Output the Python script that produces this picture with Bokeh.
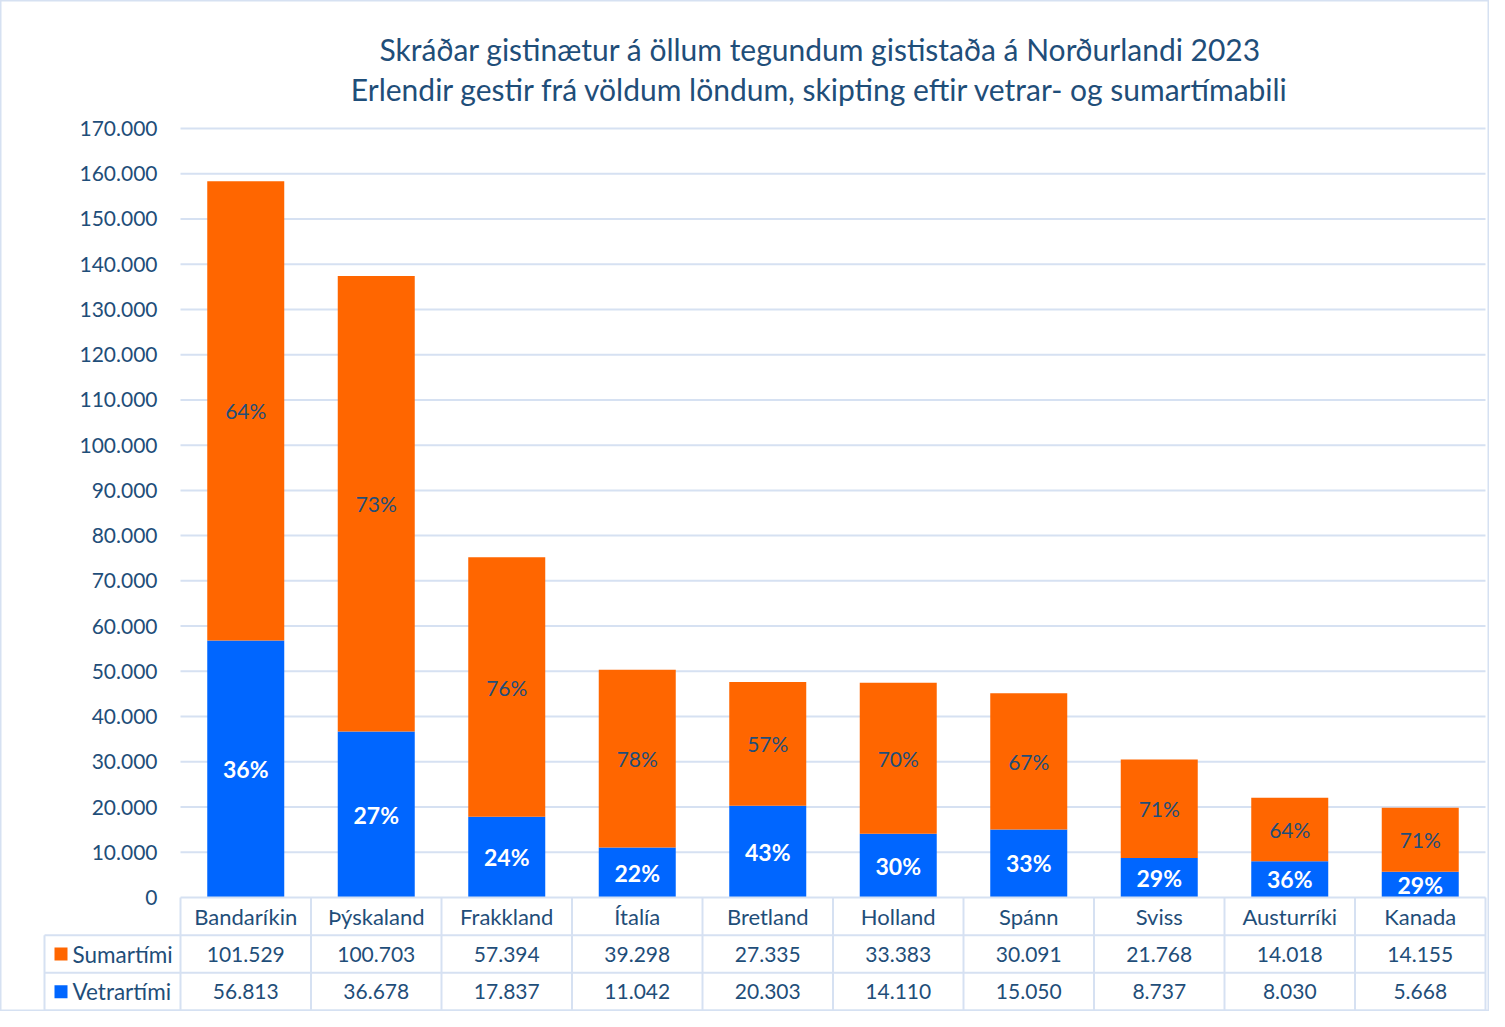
from bokeh.plotting import figure
from bokeh.models import Range1d, LinearAxis, FixedTicker
from bokeh.core.properties import value
from bokeh.embed import file_html
from bokeh.resources import INLINE

# ---------------- data ----------------
categories = ["Bandaríkin", "Þýskaland", "Frakkland", "Ítalía", "Bretland",
              "Holland", "Spánn", "Sviss", "Austurríki", "Kanada"]
sumartimi = [101529, 100703, 57394, 39298, 27335, 33383, 30091, 21768, 14018, 14155]
vetrartimi = [56813, 36678, 17837, 11042, 20303, 14110, 15050, 8737, 8030, 5668]
series_names = ["Sumartími", "Vetrartími"]
y_ticks = list(range(0, 170001, 10000))
title_lines = ["Skráðar gistinætur á öllum tegundum gististaða á Norðurlandi 2023",
               "Erlendir gestir frá völdum löndum, skipting eftir vetrar- og sumartímabili"]

# ---------------- styling ----------------
FONT = "Lato"
TXT = "#1f4e79"
ORANGE = "#ff6600"
BLUE = "#0066ff"
LINE = "#d6e1f2"

W, H = 1489, 1011
UX = 130.5                 # px per category
X0PX = 180                 # px of x=0
Y0PX = 897                 # px of y=0 (from top)
K = 769 / 170000           # px per unit

def fx(px):
    return (px - X0PX) / UX

def fy(px):
    return (Y0PX - px) / K

p = figure(width=W, height=H, output_backend="svg", toolbar_location=None,
           x_range=Range1d(fx(0), fx(W)), y_range=Range1d(fy(H), fy(0)),
           min_border=0, min_border_left=0, min_border_right=0,
           min_border_top=0, min_border_bottom=0)
p.xaxis.visible = False
p.yaxis.visible = False
p.xgrid.visible = False
p.ygrid.visible = False
p.outline_line_color = LINE
p.outline_line_width = 2
p.background_fill_color = "white"
p.border_fill_color = "white"

n = len(categories)
xs = [i + 0.5 for i in range(n)]
totals = [s + v for s, v in zip(sumartimi, vetrartimi)]

# grid lines
p.segment(x0=[0] * len(y_ticks[1:]), x1=[n] * len(y_ticks[1:]), y0=y_ticks[1:], y1=y_ticks[1:],
          line_color=LINE, line_width=2)

# y axis
ax = LinearAxis(fixed_location=0, ticker=FixedTicker(ticks=y_ticks))
ax.major_label_overrides = {t: f"{t:,}".replace(",", ".") for t in y_ticks}
ax.axis_line_color = None
ax.major_tick_line_color = None
ax.minor_tick_line_color = None
ax.major_label_standoff = 17
ax.major_label_text_font = FONT
ax.major_label_text_font_size = "21px"
ax.major_label_text_color = TXT
p.add_layout(ax, "left")

# bars
BW = 0.59
p.vbar(x=xs, width=BW, bottom=0, top=vetrartimi, fill_color=BLUE, line_color=None)
p.vbar(x=xs, width=BW, bottom=vetrartimi, top=totals, fill_color=ORANGE, line_color=None)

# percent labels
pct_s = [f"{round(100 * s / t)}%" for s, t in zip(sumartimi, totals)]
pct_v = [f"{round(100 * v / t)}%" for v, t in zip(vetrartimi, totals)]
p.text(x=xs, y=[v + s / 2 for v, s in zip(vetrartimi, sumartimi)], text=pct_s,
       text_align="center", text_baseline="middle", text_color=TXT,
       text_font=value(FONT), text_font_size="21px")
p.text(x=xs, y=[v / 2 for v in vetrartimi], text=pct_v,
       text_align="center", text_baseline="middle", text_color="white",
       text_font=value(FONT), text_font_size="23px", text_font_style="bold")

# table
RH = 8330
rows_y = [0, -RH, -2 * RH, -3 * RH]
xl = fx(44)
# horizontal lines
p.segment(x0=[0, xl, xl, xl], x1=[n] * 4, y0=rows_y, y1=rows_y, line_color=LINE, line_width=2)
# vertical lines
vx = [float(i) for i in range(n + 1)]
p.segment(x0=vx, x1=vx, y0=[0] * len(vx), y1=[rows_y[3]] * len(vx), line_color=LINE, line_width=2)
p.segment(x0=[xl], x1=[xl], y0=[rows_y[1]], y1=[rows_y[3]], line_color=LINE, line_width=2)

def fmt(v):
    return f"{v:,}".replace(",", ".")

p.text(x=xs, y=[-RH / 2] * n, text=categories, text_align="center", text_baseline="middle",
       text_color=TXT, text_font=value(FONT), text_font_size="22px")
p.text(x=xs, y=[-1.5 * RH] * n, text=[fmt(v) for v in sumartimi], text_align="center",
       text_baseline="middle", text_color=TXT, text_font=value(FONT), text_font_size="21px")
p.text(x=xs, y=[-2.5 * RH] * n, text=[fmt(v) for v in vetrartimi], text_align="center",
       text_baseline="middle", text_color=TXT, text_font=value(FONT), text_font_size="21px")

# legend keys in table
p.scatter(x=[fx(60.5)] * 2, y=[-1.5 * RH, -2.5 * RH], marker="square", size=13,
          fill_color=[ORANGE, BLUE], line_color=None)
p.text(x=[fx(72)] * 2, y=[-1.5 * RH, -2.5 * RH], text=series_names, text_align="left",
       text_baseline="middle", text_color=TXT, text_font=value(FONT), text_font_size="22.5px")

# title
p.text(x=[fx(820)] * 2, y=[fy(48), fy(88)], text=title_lines, text_align="center",
       text_baseline="middle", text_color=TXT, text_font=value(FONT), text_font_size="30px")

open("out.html", "w").write(file_html(p, INLINE))
